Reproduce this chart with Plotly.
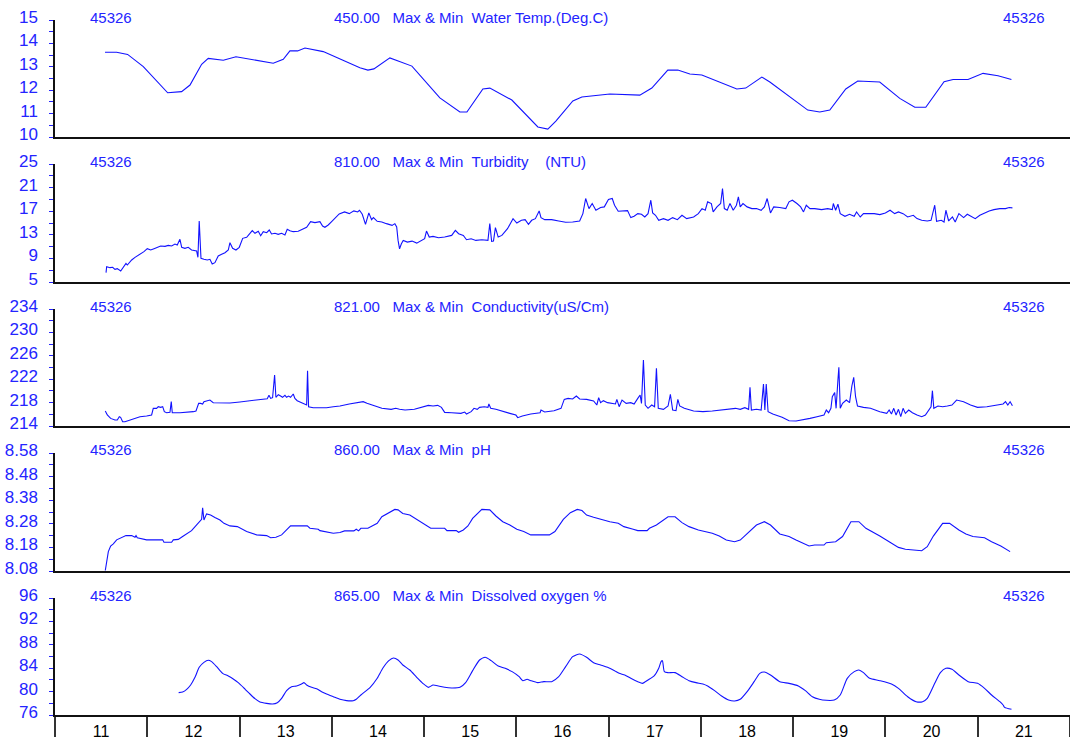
import plotly.graph_objects as go

# ---- data: (day of month, value) --------------------------------------------
WATER_TEMP = [
    (11.542, 13.62), (11.668, 13.62), (11.787, 13.53), (11.957, 13.01), (12.221, 11.89),
    (12.372, 11.94), (12.463, 12.22), (12.589, 13.11), (12.661, 13.36), (12.824, 13.28),
    (12.961, 13.43), (13.365, 13.15), (13.474, 13.32), (13.546, 13.68), (13.629, 13.68),
    (13.709, 13.80), (13.907, 13.65), (14.304, 12.96), (14.391, 12.86), (14.456, 12.91),
    (14.629, 13.38), (14.868, 13.03), (15.171, 11.67), (15.388, 11.07), (15.464, 11.07),
    (15.637, 12.05), (15.713, 12.09), (15.951, 11.58), (16.233, 10.43), (16.341, 10.34),
    (16.428, 10.68), (16.612, 11.54), (16.710, 11.71), (17.013, 11.84), (17.338, 11.79),
    (17.468, 12.09), (17.641, 12.86), (17.750, 12.86), (17.880, 12.69), (18.010, 12.65),
    (18.389, 12.05), (18.486, 12.09), (18.660, 12.56), (18.747, 12.35), (19.158, 11.15),
    (19.288, 11.07), (19.397, 11.15), (19.570, 12.05), (19.700, 12.39), (19.938, 12.35),
    (20.155, 11.65), (20.318, 11.27), (20.437, 11.27), (20.635, 12.36), (20.733, 12.46),
    (20.895, 12.46), (21.058, 12.72), (21.220, 12.62), (21.365, 12.46),
]

TURBIDITY = [
    (11.553, 6.58), (11.560, 7.60), (11.596, 7.43), (11.625, 7.49), (11.650, 7.15),
    (11.675, 7.26), (11.712, 6.86), (11.748, 7.82), (11.769, 8.16), (11.784, 7.88),
    (11.831, 8.73), (11.867, 9.18), (11.921, 9.69), (11.964, 10.14), (12.000, 10.65),
    (12.037, 10.42), (12.073, 10.65), (12.109, 10.82), (12.145, 11.10), (12.192, 11.04),
    (12.228, 11.21), (12.264, 11.10), (12.300, 11.44), (12.325, 11.27), (12.354, 12.23),
    (12.373, 10.88), (12.408, 10.71), (12.444, 10.88), (12.480, 10.42), (12.535, 10.25),
    (12.549, 9.18), (12.563, 15.34), (12.582, 9.01), (12.614, 8.84), (12.650, 8.73),
    (12.679, 8.84), (12.704, 8.05), (12.733, 8.27), (12.769, 9.41), (12.806, 9.69),
    (12.842, 9.97), (12.878, 10.42), (12.896, 11.67), (12.925, 10.71), (12.961, 10.42),
    (12.997, 10.88), (13.034, 12.40), (13.077, 12.57), (13.113, 13.25), (13.138, 13.70),
    (13.167, 13.25), (13.203, 13.59), (13.229, 12.85), (13.257, 13.53), (13.294, 13.36),
    (13.322, 13.81), (13.347, 13.14), (13.384, 13.25), (13.419, 13.08), (13.456, 13.25),
    (13.492, 12.97), (13.517, 13.93), (13.546, 13.70), (13.582, 13.53), (13.636, 13.59),
    (13.690, 13.93), (13.727, 14.27), (13.770, 15.23), (13.817, 15.06), (13.871, 15.23),
    (13.900, 14.49), (13.925, 14.27), (13.961, 14.66), (13.998, 15.23), (14.034, 15.79),
    (14.080, 16.53), (14.138, 16.88), (14.189, 16.59), (14.239, 17.05), (14.280, 16.88),
    (14.300, 17.16), (14.330, 16.48), (14.365, 14.77), (14.401, 16.71), (14.431, 15.57),
    (14.451, 15.91), (14.492, 15.29), (14.542, 15.17), (14.592, 14.89), (14.653, 14.60),
    (14.683, 14.89), (14.703, 14.32), (14.718, 12.05), (14.734, 10.63), (14.754, 11.48),
    (14.774, 12.05), (14.819, 11.76), (14.870, 11.93), (14.920, 11.59), (14.971, 12.05),
    (15.006, 12.33), (15.026, 13.64), (15.056, 12.62), (15.097, 12.73), (15.157, 12.50),
    (15.223, 12.62), (15.299, 12.90), (15.339, 13.75), (15.374, 13.18), (15.425, 12.90),
    (15.460, 12.16), (15.510, 12.33), (15.561, 12.05), (15.626, 12.16), (15.692, 12.05),
    (15.712, 14.89), (15.732, 11.88), (15.752, 11.93), (15.773, 14.21), (15.803, 12.62),
    (15.843, 12.90), (15.904, 14.04), (15.964, 15.74), (16.005, 15.00), (16.055, 15.46),
    (16.095, 15.57), (16.131, 14.77), (16.166, 15.46), (16.206, 15.74), (16.247, 17.05),
    (16.267, 15.91), (16.307, 15.57), (16.383, 15.57), (16.459, 15.34), (16.534, 15.12),
    (16.610, 15.17), (16.686, 15.34), (16.721, 16.59), (16.751, 19.15), (16.787, 17.44),
    (16.822, 18.30), (16.862, 17.16), (16.913, 17.62), (16.953, 17.73), (16.998, 18.98),
    (17.039, 19.15), (17.064, 18.01), (17.104, 16.99), (17.155, 16.99), (17.205, 17.10),
    (17.240, 15.91), (17.276, 16.14), (17.316, 16.59), (17.356, 16.48), (17.392, 16.02),
    (17.427, 16.59), (17.457, 18.86), (17.477, 16.71), (17.508, 16.31), (17.543, 15.46),
    (17.594, 15.74), (17.644, 15.46), (17.694, 15.91), (17.745, 15.57), (17.795, 16.31),
    (17.846, 15.74), (17.921, 16.02), (17.972, 16.59), (18.012, 17.44), (18.047, 17.16),
    (18.073, 18.58), (18.113, 18.30), (18.133, 16.88), (18.174, 17.73), (18.214, 18.30),
    (18.234, 20.85), (18.254, 17.44), (18.285, 17.16), (18.315, 18.30), (18.350, 17.16),
    (18.385, 18.01), (18.406, 19.43), (18.426, 17.73), (18.456, 18.30), (18.501, 17.73),
    (18.552, 17.44), (18.602, 17.44), (18.653, 17.16), (18.688, 17.73), (18.718, 19.15),
    (18.754, 16.71), (18.789, 17.73), (18.854, 17.62), (18.920, 17.44), (18.955, 18.58),
    (18.991, 18.86), (19.041, 18.30), (19.081, 17.73), (19.112, 16.88), (19.142, 18.01),
    (19.182, 17.44), (19.233, 17.44), (19.308, 17.27), (19.374, 17.44), (19.424, 17.27),
    (19.435, 18.30), (19.460, 17.16), (19.485, 18.18), (19.510, 16.59), (19.561, 16.14),
    (19.611, 16.48), (19.661, 16.14), (19.687, 16.88), (19.727, 16.02), (19.762, 16.59),
    (19.813, 16.59), (19.878, 16.59), (19.939, 16.42), (19.999, 16.71), (20.050, 17.16),
    (20.100, 16.59), (20.141, 16.88), (20.191, 16.59), (20.241, 16.02), (20.302, 16.31),
    (20.342, 15.74), (20.393, 15.46), (20.453, 15.34), (20.494, 15.46), (20.534, 18.01),
    (20.554, 15.29), (20.605, 15.46), (20.635, 15.17), (20.655, 17.16), (20.685, 15.34),
    (20.726, 16.02), (20.756, 15.17), (20.796, 16.59), (20.822, 16.31), (20.847, 15.91),
    (20.887, 16.48), (20.938, 16.02), (20.973, 15.74), (21.023, 16.31), (21.074, 16.71),
    (21.124, 17.05), (21.175, 17.27), (21.240, 17.44), (21.301, 17.44), (21.341, 17.62),
    (21.376, 17.56),
]

CONDUCTIVITY = [
    (11.545, 216.56), (11.567, 215.88), (11.603, 215.30), (11.650, 215.02), (11.675, 215.02),
    (11.697, 215.59), (11.711, 215.48), (11.733, 214.73), (11.758, 214.73), (11.813, 215.02),
    (11.867, 215.30), (11.921, 215.59), (11.993, 215.70), (12.047, 215.88), (12.065, 217.02),
    (12.101, 217.02), (12.119, 217.30), (12.145, 217.19), (12.167, 217.30), (12.185, 216.45),
    (12.210, 216.27), (12.246, 216.33), (12.260, 218.16), (12.271, 216.27), (12.354, 216.27),
    (12.427, 216.33), (12.499, 216.45), (12.528, 216.56), (12.557, 217.87), (12.578, 217.87),
    (12.600, 217.76), (12.614, 218.16), (12.643, 218.33), (12.679, 218.44), (12.715, 217.98),
    (12.788, 217.98), (12.896, 217.93), (13.004, 218.10), (13.095, 218.27), (13.185, 218.55),
    (13.257, 218.67), (13.300, 218.67), (13.319, 219.24), (13.337, 218.72), (13.358, 218.84),
    (13.380, 222.72), (13.394, 218.90), (13.420, 219.35), (13.445, 219.12), (13.466, 218.90),
    (13.492, 219.24), (13.510, 218.90), (13.531, 219.12), (13.553, 218.90), (13.582, 219.47),
    (13.600, 218.72), (13.625, 218.33), (13.672, 217.98), (13.709, 217.70), (13.727, 217.59),
    (13.737, 223.46), (13.748, 217.30), (13.798, 217.13), (13.871, 217.07), (13.943, 217.13),
    (14.016, 217.30), (14.088, 217.42), (14.189, 217.76), (14.290, 217.99), (14.340, 218.16),
    (14.381, 217.87), (14.441, 217.59), (14.542, 217.02), (14.643, 216.85), (14.693, 217.02),
    (14.734, 216.85), (14.794, 216.73), (14.895, 216.85), (14.996, 217.30), (15.046, 217.53),
    (15.097, 217.42), (15.147, 217.53), (15.188, 217.19), (15.223, 216.33), (15.299, 216.27),
    (15.399, 216.16), (15.440, 216.39), (15.460, 216.04), (15.510, 216.45), (15.541, 217.02),
    (15.576, 216.85), (15.601, 217.19), (15.652, 217.30), (15.692, 217.19), (15.702, 217.76),
    (15.722, 217.02), (15.778, 216.85), (15.853, 216.45), (15.929, 216.16), (15.995, 215.87),
    (16.015, 215.42), (16.065, 215.70), (16.156, 216.04), (16.257, 216.27), (16.267, 216.73),
    (16.307, 216.39), (16.408, 216.62), (16.484, 217.02), (16.519, 218.55), (16.560, 218.72),
    (16.610, 218.61), (16.650, 219.13), (16.686, 218.61), (16.761, 218.55), (16.837, 218.27),
    (16.872, 217.59), (16.892, 218.84), (16.913, 217.99), (16.943, 218.33), (16.988, 217.99),
    (17.039, 217.87), (17.074, 217.76), (17.089, 218.55), (17.114, 217.30), (17.145, 218.44),
    (17.190, 217.87), (17.240, 217.99), (17.276, 217.76), (17.316, 218.72), (17.341, 219.30),
    (17.356, 217.87), (17.377, 225.28), (17.397, 217.59), (17.427, 217.02), (17.467, 217.59),
    (17.498, 217.30), (17.518, 223.86), (17.538, 217.02), (17.594, 216.85), (17.644, 217.42),
    (17.669, 219.41), (17.694, 216.73), (17.730, 216.62), (17.750, 218.55), (17.770, 217.42),
    (17.820, 217.02), (17.921, 216.56), (18.022, 216.45), (18.123, 216.56), (18.224, 216.73),
    (18.325, 216.85), (18.375, 217.02), (18.426, 216.85), (18.476, 217.13), (18.517, 216.85),
    (18.532, 220.61), (18.547, 216.73), (18.602, 216.85), (18.653, 216.73), (18.678, 221.18),
    (18.693, 216.73), (18.708, 221.18), (18.728, 216.45), (18.779, 216.04), (18.880, 215.48),
    (18.955, 214.91), (19.031, 214.85), (19.107, 215.02), (19.182, 215.30), (19.258, 215.59),
    (19.334, 215.87), (19.359, 216.73), (19.384, 216.27), (19.409, 217.02), (19.424, 219.01),
    (19.450, 219.70), (19.465, 217.02), (19.485, 221.86), (19.495, 224.03), (19.510, 217.02),
    (19.535, 217.87), (19.576, 218.44), (19.611, 217.99), (19.636, 220.84), (19.656, 222.32),
    (19.676, 219.01), (19.697, 217.42), (19.762, 217.19), (19.838, 217.02), (19.939, 216.45),
    (20.014, 216.16), (20.040, 216.73), (20.065, 216.04), (20.090, 217.02), (20.115, 215.87),
    (20.141, 216.85), (20.166, 215.59), (20.191, 217.02), (20.216, 216.16), (20.252, 216.73),
    (20.292, 216.27), (20.342, 215.87), (20.393, 215.59), (20.433, 215.87), (20.469, 216.73),
    (20.494, 217.30), (20.509, 220.04), (20.524, 217.02), (20.569, 217.42), (20.620, 217.30),
    (20.670, 217.42), (20.721, 217.59), (20.771, 218.44), (20.847, 218.16), (20.922, 217.59),
    (20.998, 217.19), (21.099, 217.30), (21.200, 217.59), (21.275, 217.76), (21.301, 218.16),
    (21.326, 217.59), (21.351, 218.16), (21.376, 217.47),
]

PH = [
    (11.545, 8.082), (11.560, 8.113), (11.578, 8.162), (11.603, 8.186), (11.632, 8.195),
    (11.668, 8.212), (11.704, 8.219), (11.733, 8.226), (11.769, 8.230), (11.831, 8.230),
    (11.867, 8.223), (11.878, 8.230), (11.892, 8.221), (11.993, 8.212), (12.167, 8.212),
    (12.181, 8.202), (12.264, 8.202), (12.282, 8.212), (12.336, 8.214), (12.383, 8.226),
    (12.444, 8.240), (12.480, 8.251), (12.535, 8.275), (12.589, 8.299), (12.600, 8.348),
    (12.614, 8.296), (12.643, 8.322), (12.686, 8.317), (12.733, 8.307), (12.788, 8.296),
    (12.831, 8.282), (12.896, 8.271), (12.976, 8.268), (13.022, 8.257), (13.077, 8.247),
    (13.185, 8.233), (13.294, 8.230), (13.337, 8.221), (13.394, 8.223), (13.456, 8.233),
    (13.510, 8.254), (13.553, 8.271), (13.654, 8.271), (13.734, 8.271), (13.763, 8.261),
    (13.853, 8.257), (13.871, 8.251), (13.943, 8.247), (14.016, 8.240), (14.088, 8.243),
    (14.138, 8.250), (14.239, 8.250), (14.265, 8.257), (14.290, 8.250), (14.315, 8.261),
    (14.391, 8.261), (14.441, 8.271), (14.492, 8.282), (14.542, 8.310), (14.618, 8.327),
    (14.683, 8.341), (14.718, 8.339), (14.769, 8.324), (14.845, 8.317), (14.920, 8.299),
    (14.996, 8.282), (15.072, 8.261), (15.223, 8.261), (15.248, 8.251), (15.349, 8.251),
    (15.374, 8.244), (15.425, 8.254), (15.475, 8.271), (15.526, 8.303), (15.626, 8.341),
    (15.712, 8.339), (15.778, 8.313), (15.853, 8.289), (15.929, 8.275), (16.005, 8.257),
    (16.080, 8.247), (16.156, 8.233), (16.358, 8.233), (16.418, 8.247), (16.509, 8.299),
    (16.585, 8.327), (16.660, 8.341), (16.711, 8.336), (16.761, 8.317), (16.837, 8.308),
    (16.938, 8.296), (17.013, 8.289), (17.104, 8.282), (17.165, 8.268), (17.266, 8.257),
    (17.316, 8.251), (17.417, 8.251), (17.442, 8.261), (17.518, 8.275), (17.644, 8.310),
    (17.720, 8.310), (17.795, 8.285), (17.871, 8.268), (17.972, 8.254), (18.123, 8.240),
    (18.199, 8.228), (18.275, 8.211), (18.365, 8.204), (18.426, 8.211), (18.527, 8.247),
    (18.602, 8.275), (18.688, 8.289), (18.754, 8.275), (18.855, 8.237), (18.955, 8.226),
    (19.031, 8.211), (19.172, 8.186), (19.233, 8.190), (19.334, 8.190), (19.359, 8.200),
    (19.460, 8.204), (19.535, 8.226), (19.626, 8.289), (19.712, 8.289), (19.788, 8.261),
    (19.939, 8.228), (20.040, 8.204), (20.141, 8.180), (20.216, 8.172), (20.317, 8.169),
    (20.393, 8.166), (20.453, 8.183), (20.519, 8.228), (20.620, 8.282), (20.695, 8.282),
    (20.796, 8.254), (20.872, 8.237), (20.948, 8.226), (21.074, 8.221), (21.150, 8.204),
    (21.250, 8.186), (21.351, 8.162),
]

DISSOLVED_O2 = [
    (12.340, 79.82), (12.383, 79.93), (12.427, 80.39), (12.470, 81.13), (12.517, 82.44),
    (12.563, 84.15), (12.614, 85.00), (12.661, 85.35), (12.697, 85.12), (12.752, 84.26),
    (12.816, 83.12), (12.878, 82.67), (12.932, 82.15), (12.986, 81.53), (13.059, 80.44),
    (13.113, 79.59), (13.167, 78.79), (13.221, 78.22), (13.293, 77.99), (13.358, 77.88),
    (13.409, 78.11), (13.456, 78.85), (13.510, 80.16), (13.564, 80.84), (13.618, 80.96),
    (13.672, 81.30), (13.698, 81.53), (13.727, 81.13), (13.781, 80.73), (13.835, 80.50),
    (13.889, 79.99), (13.943, 79.59), (14.016, 79.13), (14.088, 78.68), (14.160, 78.45),
    (14.232, 78.45), (14.265, 78.68), (14.315, 79.42), (14.416, 80.73), (14.492, 82.27),
    (14.552, 83.98), (14.618, 85.29), (14.668, 85.74), (14.718, 85.40), (14.769, 84.55),
    (14.845, 83.69), (14.920, 82.44), (14.986, 81.41), (15.046, 80.73), (15.097, 81.13),
    (15.157, 80.96), (15.223, 80.73), (15.299, 80.62), (15.389, 80.73), (15.450, 81.53),
    (15.526, 83.58), (15.601, 85.40), (15.662, 85.86), (15.727, 85.29), (15.803, 84.38),
    (15.879, 83.98), (15.954, 83.41), (16.030, 82.55), (16.070, 81.87), (16.116, 82.10),
    (16.156, 81.87), (16.232, 81.53), (16.297, 81.70), (16.383, 81.70), (16.459, 82.55),
    (16.534, 84.26), (16.610, 85.97), (16.686, 86.43), (16.761, 85.86), (16.837, 84.95),
    (16.913, 84.55), (16.988, 84.15), (17.064, 83.58), (17.114, 83.12), (17.175, 82.84),
    (17.240, 82.27), (17.316, 81.70), (17.367, 81.41), (17.427, 81.98), (17.493, 82.67),
    (17.543, 83.98), (17.568, 85.12), (17.583, 85.29), (17.604, 83.41), (17.644, 83.24),
    (17.720, 83.24), (17.795, 82.55), (17.871, 81.87), (17.947, 81.53), (18.022, 81.30),
    (18.073, 80.96), (18.148, 80.16), (18.224, 79.25), (18.300, 78.56), (18.365, 78.39),
    (18.426, 78.68), (18.501, 79.99), (18.577, 81.70), (18.638, 83.12), (18.688, 83.35),
    (18.754, 82.84), (18.855, 81.70), (18.955, 81.41), (19.056, 80.96), (19.132, 80.16),
    (19.208, 79.13), (19.283, 78.68), (19.359, 78.51), (19.445, 78.56), (19.510, 79.42),
    (19.586, 82.27), (19.662, 83.41), (19.712, 83.69), (19.762, 83.24), (19.828, 82.27),
    (19.939, 81.87), (20.065, 81.30), (20.141, 80.56), (20.241, 79.13), (20.332, 78.28),
    (20.403, 78.28), (20.453, 78.85), (20.534, 81.41), (20.595, 83.24), (20.655, 83.98),
    (20.721, 83.81), (20.796, 82.84), (20.897, 81.70), (20.998, 81.41), (21.074, 80.56),
    (21.150, 79.42), (21.240, 78.28), (21.275, 77.71), (21.291, 77.31), (21.366, 76.97),
]

# y-axis tick labels of each panel
TEMP_TICKS = [10, 11, 12, 13, 14, 15]
TURB_TICKS = [5, 9, 13, 17, 21, 25]
COND_TICKS = [214, 218, 222, 226, 230, 234]
PH_TICKS = [8.08, 8.18, 8.28, 8.38, 8.48, 8.58]
DO_TICKS = [76, 80, 84, 88, 92, 96]

DAY_LABELS = ["11", "12", "13", "14", "15", "16", "17", "18", "19", "20", "21"]

HEADER_ID = "45326"
NB = "\u00a0"
TITLES = [
    "450.00" + NB * 3 + "Max & Min" + NB * 2 + "Water Temp.(Deg.C)",
    "810.00" + NB * 3 + "Max & Min" + NB * 2 + "Turbidity" + NB * 4 + "(NTU)",
    "821.00" + NB * 3 + "Max & Min" + NB * 2 + "Conductivity(uS/Cm)",
    "860.00" + NB * 3 + "Max & Min" + NB * 2 + "pH",
    "865.00" + NB * 3 + "Max & Min" + NB * 2 + "Dissolved oxygen %",
]

# ---- styling -----------------------------------------------------------------
LINE_BLUE = "#1212ff"
TEXT_BLUE = "#2424ff"
FONT = "Liberation Sans, Arial, sans-serif"

PLOT_H = 715  # plot area height in px (figure height minus bottom margin)


def dom(top_px, bottom_px):
    return [(PLOT_H - bottom_px) / PLOT_H, (PLOT_H - top_px) / PLOT_H]


panels = [
    dict(data=WATER_TEMP, ticks=TEMP_TICKS, fmt="{:d}", domain=dom(20, 137), shape="linear"),
    dict(data=TURBIDITY, ticks=TURB_TICKS, fmt="{:d}", domain=dom(164, 282), shape="linear"),
    dict(data=CONDUCTIVITY, ticks=COND_TICKS, fmt="{:d}", domain=dom(309, 426), shape="linear"),
    dict(data=PH, ticks=PH_TICKS, fmt="{:.2f}", domain=dom(453, 571), shape="linear"),
    dict(data=DISSOLVED_O2, ticks=DO_TICKS, fmt="{:d}", domain=dom(598, 715), shape="spline"),
]

fig = go.Figure()
annotations = []
layout = {}

for i, p in enumerate(panels, start=1):
    xs = [d for d, _ in p["data"]]
    ys = [v for _, v in p["data"]]
    xa = "x" if i == 1 else f"x{i}"
    ya = "y" if i == 1 else f"y{i}"
    line = dict(color=LINE_BLUE, width=1.1, shape=p["shape"])
    if p["shape"] == "spline":
        line["smoothing"] = 0.6
    fig.add_trace(go.Scatter(x=xs, y=ys, mode="lines", line=line,
                             xaxis=xa, yaxis=ya, showlegend=False, hoverinfo="skip"))

    t = p["ticks"]
    step = t[1] - t[0]
    minor_vals = [round(v + step / 2, 3) for v in t[:-1]]
    last = i == len(panels)

    xaxis = dict(
        domain=[0, 1], range=[11, 22], anchor=ya, automargin=False,
        showline=True, linecolor="#111111", linewidth=2,
        showgrid=False, zeroline=False, fixedrange=True,
    )
    if i > 1:
        xaxis["matches"] = "x"
    if last:
        xaxis.update(
            tickmode="array",
            tickvals=[11.5 + k for k in range(len(DAY_LABELS))],
            ticktext=DAY_LABELS,
            ticks="", showticklabels=True,
            tickfont=dict(family=FONT, size=16, color="#000000"),
            ticklabelstandoff=1,
            minor=dict(ticks="outside", tickmode="array",
                       tickvals=list(range(11, 23)), ticklen=20,
                       tickwidth=1.5, tickcolor="#333333"),
        )
    else:
        xaxis.update(showticklabels=False, ticks="")

    yaxis = dict(
        domain=p["domain"], range=[t[0], t[-1]], anchor=xa, automargin=False,
        showline=True, linecolor="#111111", linewidth=1.5,
        showgrid=False, zeroline=False, fixedrange=True,
        tickmode="array", tickvals=t, ticktext=[p["fmt"].format(v) for v in t],
        ticks="outside", ticklen=4, tickwidth=1.2, tickcolor=TEXT_BLUE,
        tickfont=dict(family=FONT, size=17, color=TEXT_BLUE),
        ticklabelstandoff=8, ticklabelshift=-3,
        minor=dict(ticks="outside", tickmode="array", tickvals=minor_vals,
                   ticklen=4, tickwidth=1.2, tickcolor=TEXT_BLUE),
    )

    layout["xaxis" if i == 1 else f"xaxis{i}"] = xaxis
    layout["yaxis" if i == 1 else f"yaxis{i}"] = yaxis

    yref = "y domain" if i == 1 else f"y{i} domain"
    head_font = dict(family=FONT, size=15, color=TEXT_BLUE)
    for x, anchor, text in [
        (33 / 1015, "left", HEADER_ID),
        (277 / 1015, "left", TITLES[i - 1]),
        (992 / 1015, "right", HEADER_ID),
    ]:
        annotations.append(dict(
            xref="paper", yref=yref, x=x, y=1, xanchor=anchor, yanchor="middle",
            yshift=3, text=text, showarrow=False, font=head_font,
        ))

fig.update_layout(
    template="none",
    width=1070, height=742,
    margin=dict(l=55, r=0, t=0, b=27, pad=0, autoexpand=False),
    paper_bgcolor="white", plot_bgcolor="white",
    font=dict(family=FONT),
    showlegend=False,
    annotations=annotations,
    **layout,
)

fig.write_html("out.html")
